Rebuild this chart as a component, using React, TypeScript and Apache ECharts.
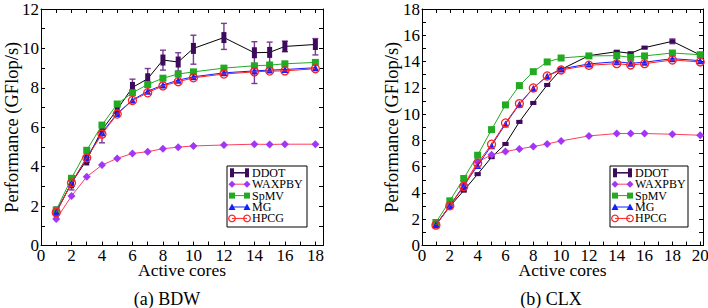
import React, { useEffect, useRef } from 'react';
import * as echarts from 'echarts';

// ---------- data ----------
const seriesNames = ['DDOT', 'WAXPBY', 'SpMV', 'MG', 'HPCG'];

const bdwCores = [1, 2, 3, 4, 5, 6, 7, 8, 9, 10, 12, 14, 15, 16, 18];
const bdwDDOT = [1.70, 3.18, 4.34, 5.86, 6.90, 8.02, 8.46, 9.41, 9.31, 10.0, 10.55, 9.78, 9.80, 10.10, 10.20];
const bdwDDOTLow = [1.62, 2.82, 4.22, 5.21, 6.78, 7.80, 8.02, 8.90, 8.85, 9.20, 9.95, 8.22, 9.29, 9.83, 9.67];
const bdwDDOTHigh = [1.78, 3.40, 4.46, 5.98, 7.02, 8.44, 8.98, 9.91, 9.78, 10.67, 11.27, 10.34, 10.32, 10.37, 10.50];
const bdwWAXPBY = [1.34, 2.51, 3.49, 4.08, 4.42, 4.67, 4.76, 4.91, 4.99, 5.05, 5.10, 5.14, 5.13, 5.14, 5.14];
const bdwSpMV = [1.80, 3.41, 4.83, 6.11, 7.18, 7.75, 8.17, 8.49, 8.70, 8.81, 9.00, 9.12, 9.15, 9.22, 9.29];
const bdwMG = [1.70, 3.15, 4.47, 5.72, 6.70, 7.38, 7.83, 8.14, 8.39, 8.56, 8.76, 8.86, 8.90, 8.93, 9.02];
const bdwHPCG = [1.68, 3.18, 4.45, 5.65, 6.67, 7.36, 7.75, 8.10, 8.31, 8.51, 8.70, 8.81, 8.85, 8.86, 8.97];

const clxCores = [1, 2, 3, 4, 5, 6, 7, 8, 9, 10, 12, 14, 15, 16, 18, 20];
const clxDDOT = [1.57, 2.97, 4.18, 5.43, 6.72, 7.73, 9.41, 10.85, 12.22, 13.40, 14.45, 14.75, 14.63, 15.06, 15.54, 14.50];
const clxDDOTLow = [1.50, 2.90, 4.10, 5.35, 6.64, 7.65, 9.33, 10.77, 12.14, 13.32, 14.37, 14.67, 14.55, 14.98, 15.36, 14.36];
const clxDDOTHigh = [1.64, 3.04, 4.26, 5.51, 6.80, 7.81, 9.49, 10.93, 12.30, 13.48, 14.53, 14.83, 14.71, 15.14, 15.72, 14.64];
const clxWAXPBY = [1.57, 3.00, 4.60, 6.36, 6.90, 7.15, 7.35, 7.53, 7.73, 7.96, 8.34, 8.52, 8.52, 8.52, 8.47, 8.39];
const clxSpMV = [1.75, 3.40, 5.10, 6.87, 8.82, 10.70, 12.17, 13.23, 13.97, 14.27, 14.43, 14.45, 14.32, 14.43, 14.65, 14.52];
const clxMG = [1.57, 3.02, 4.54, 6.08, 7.60, 9.25, 10.75, 11.97, 12.90, 13.44, 13.82, 13.99, 13.87, 13.95, 14.22, 14.07];
const clxHPCG = [1.55, 3.02, 4.49, 6.26, 7.71, 9.33, 10.80, 11.99, 12.90, 13.36, 13.72, 13.84, 13.74, 13.84, 14.12, 13.97];

const bdwXRange = [0, 18.5];
const bdwYRange = [0, 12];
const clxXRange = [0, 20.2];
const clxYRange = [0, 18];
const bdwXLabelMax = 18;
const clxXLabelMax = 20;

const xTitle = 'Active cores';
const yTitle = 'Performance (GFlop/s)';
const captions = ['(a) BDW', '(b) CLX'];

// ---------- styles ----------
const SERIF = 'Liberation Serif';
const COL = {
  ddotMarker: '#3d0a5c',
  ddotErr: '#7a3a96',
  ddotLine: '#000000',
  wax: '#a236f4',
  waxLine: '#ff3d5e',
  spmv: '#22aa22',
  mg: '#1020ff',
  hpcg: '#ff2020',
};

function evenLabel(max: number) {
  return (v: number) => (Math.abs(v % 2) < 1e-9 && v <= max + 1e-9 ? String(v) : '');
}

function axesFor(grid: number, xr: number[], yr: number[], xLabMax: number, yGap: number) {
  const tick = { show: true, inside: true, length: 4, lineStyle: { color: '#000', width: 1 } };
  const line = { show: true, onZero: false, lineStyle: { color: '#000', width: 1 } };
  const lab = { color: '#000', fontFamily: SERIF, fontSize: 17, fontWeight: 'normal' };
  const xs = [
    {
      type: 'value', gridIndex: grid, position: 'bottom', min: xr[0], max: xr[1], interval: 1,
      axisLine: line, axisTick: tick, splitLine: { show: false },
      axisLabel: { ...lab, margin: 1, formatter: evenLabel(xLabMax), showMaxLabel: false },
      name: xTitle, nameLocation: 'middle', nameGap: 15, nameMoveOverlap: false,
      nameTextStyle: { color: '#000', fontFamily: SERIF, fontSize: 17.5, fontWeight: 'normal' },
    },
    {
      type: 'value', gridIndex: grid, position: 'top', min: xr[0], max: xr[1], interval: 1,
      axisLine: line, axisTick: tick, splitLine: { show: false }, axisLabel: { show: false },
    },
  ];
  const ys = [
    {
      type: 'value', gridIndex: grid, position: 'left', min: yr[0], max: yr[1], interval: 1,
      axisLine: line, axisTick: tick, splitLine: { show: false },
      axisLabel: { ...lab, margin: 2, formatter: evenLabel(yr[1]) },
      name: yTitle, nameLocation: 'middle', nameGap: yGap, nameMoveOverlap: false,
      nameTextStyle: { color: '#000', fontFamily: SERIF, fontSize: 18.5, fontWeight: 'normal' },
    },
    {
      type: 'value', gridIndex: grid, position: 'right', min: yr[0], max: yr[1], interval: 1,
      axisLine: line, axisTick: tick, splitLine: { show: false }, axisLabel: { show: false },
    },
  ];
  return { xs, ys };
}

function pairs(cores: number[], vals: number[]) {
  return cores.map((c, i) => [c, vals[i]]);
}

function lineSeries(name: string, cores: number[], vals: number[], axis: number, symbol: string,
  size: any, color: string, lineColor: string, hollow: boolean, z: number) {
  return {
    type: 'line', name, xAxisIndex: axis, yAxisIndex: axis, data: pairs(cores, vals),
    symbol, symbolSize: size, showAllSymbol: true, z, silent: true,
    lineStyle: { color: lineColor, width: 1 },
    itemStyle: hollow
      ? { color: 'rgba(255,255,255,0)', borderColor: color, borderWidth: 1.3 }
      : { color, borderWidth: 0 },
  };
}

function errSeries(cores: number[], lo: number[], hi: number[], axis: number) {
  return {
    type: 'custom', xAxisIndex: axis, yAxisIndex: axis, z: 1, silent: true,
    data: cores.map((c, i) => [c, lo[i], hi[i]]),
    encode: { x: 0, y: [1, 2] },
    renderItem: (_p: any, api: any) => {
      const x = api.value(0);
      const a = api.coord([x, api.value(1)]);
      const b = api.coord([x, api.value(2)]);
      const hw = 3;
      const st = { stroke: COL.ddotErr, lineWidth: 1.4 };
      return {
        type: 'group',
        children: [
          { type: 'line', shape: { x1: a[0], y1: a[1], x2: b[0], y2: b[1] }, style: st },
          { type: 'line', shape: { x1: a[0] - hw, y1: a[1], x2: a[0] + hw, y2: a[1] }, style: st },
          { type: 'line', shape: { x1: b[0] - hw, y1: b[1], x2: b[0] + hw, y2: b[1] }, style: st },
        ],
      };
    },
  };
}

function legendGraphic(bx: number, by: number, w: number) {
  const els: any[] = [
    { type: 'rect', shape: { x: bx, y: by, width: w, height: 61 }, style: { fill: '#fff', stroke: '#000', lineWidth: 1 }, z: 100 },
  ];
  const x1 = bx + 5;
  const x2 = bx + 20;
  seriesNames.forEach((name, i) => {
    const cy = by + 6.8 + i * 11.4;
    let lineColor = '#000';
    const marks: any[] = [];
    [x1, x2].forEach((cx) => {
      if (i === 0) {
        lineColor = COL.ddotMarker;
        marks.push({ type: 'rect', shape: { x: cx - 2, y: cy - 4.5, width: 4, height: 9 }, style: { fill: COL.ddotMarker } });
      } else if (i === 1) {
        lineColor = COL.waxLine;
        marks.push({ type: 'polygon', shape: { points: [[cx, cy - 3.5], [cx + 3.5, cy], [cx, cy + 3.5], [cx - 3.5, cy]] }, style: { fill: COL.wax } });
      } else if (i === 2) {
        lineColor = COL.spmv;
        marks.push({ type: 'rect', shape: { x: cx - 3, y: cy - 3, width: 6, height: 6 }, style: { fill: COL.spmv } });
      } else if (i === 3) {
        lineColor = COL.mg;
        marks.push({ type: 'polygon', shape: { points: [[cx, cy - 3.5], [cx + 3.5, cy + 3], [cx - 3.5, cy + 3]] }, style: { fill: COL.mg } });
      } else {
        lineColor = COL.hpcg;
        marks.push({ type: 'circle', shape: { cx, cy, r: 3.3 }, style: { fill: 'none', stroke: COL.hpcg, lineWidth: 1.2 } });
      }
    });
    els.push({ type: 'line', shape: { x1, y1: cy, x2, y2: cy }, style: { stroke: lineColor, lineWidth: i === 0 ? 1.6 : 1 }, z: 101 });
    marks.forEach((m) => els.push({ ...m, z: 102 }));
    els.push({
      type: 'text', x: bx + 25, y: cy, z: 102,
      style: { text: name, fontFamily: SERIF, fontSize: 12, fill: '#000', align: 'left', verticalAlign: 'middle' },
    });
  });
  return els;
}

export default function App() {
  const ref = useRef<HTMLDivElement>(null);
  useEffect(() => {
    if (!ref.current) return;
    const chart = echarts.init(ref.current, undefined, { renderer: 'svg' });
    const a0 = axesFor(0, bdwXRange, bdwYRange, bdwXLabelMax, 20);
    const a1 = axesFor(1, clxXRange, clxYRange, clxXLabelMax, 21);
    const option: any = {
      animation: false,
      backgroundColor: '#fff',
      textStyle: { fontFamily: SERIF },
      grid: [
        { left: 41, top: 9, width: 282, height: 236.5, outerBoundsMode: 'none' },
        { left: 422, top: 9, width: 281, height: 236.5, outerBoundsMode: 'none' },
      ],
      xAxis: [...a0.xs, ...a1.xs],
      yAxis: [...a0.ys, ...a1.ys],
      series: [
        errSeries(bdwCores, bdwDDOTLow, bdwDDOTHigh, 0),
        lineSeries(seriesNames[0], bdwCores, bdwDDOT, 0, 'rect', [5, 11], COL.ddotMarker, COL.ddotLine, false, 2),
        lineSeries(seriesNames[1], bdwCores, bdwWAXPBY, 0, 'diamond', 8, COL.wax, COL.waxLine, false, 3),
        lineSeries(seriesNames[2], bdwCores, bdwSpMV, 0, 'rect', 7, COL.spmv, COL.spmv, false, 4),
        lineSeries(seriesNames[3], bdwCores, bdwMG, 0, 'triangle', 7, COL.mg, COL.mg, false, 5),
        lineSeries(seriesNames[4], bdwCores, bdwHPCG, 0, 'circle', 8, COL.hpcg, COL.hpcg, true, 6),

        errSeries(clxCores, clxDDOTLow, clxDDOTHigh, 2),
        lineSeries(seriesNames[0], clxCores, clxDDOT, 2, 'rect', [6, 4], COL.ddotMarker, COL.ddotLine, false, 2),
        lineSeries(seriesNames[1], clxCores, clxWAXPBY, 2, 'diamond', 8, COL.wax, COL.waxLine, false, 3),
        lineSeries(seriesNames[2], clxCores, clxSpMV, 2, 'rect', 7, COL.spmv, COL.spmv, false, 4),
        lineSeries(seriesNames[3], clxCores, clxMG, 2, 'triangle', 7, COL.mg, COL.mg, false, 5),
        lineSeries(seriesNames[4], clxCores, clxHPCG, 2, 'circle', 8, COL.hpcg, COL.hpcg, true, 6),
      ],
      graphic: [
        ...legendGraphic(227, 166, 80),
        ...legendGraphic(610, 166, 78),
        {
          type: 'text', x: 167, y: 298.5,
          style: { text: captions[0], fontFamily: SERIF, fontSize: 18, fill: '#000', align: 'center', verticalAlign: 'middle' },
        },
        {
          type: 'text', x: 551, y: 298.5,
          style: { text: captions[1], fontFamily: SERIF, fontSize: 18, fill: '#000', align: 'center', verticalAlign: 'middle' },
        },
      ],
    };
    chart.setOption(option);
    return () => chart.dispose();
  }, []);
  return (
    <div
      ref={ref}
      style={{ position: 'fixed', left: 0, top: 0, width: 708, height: 308, background: '#fff' }}
    />
  );
}
